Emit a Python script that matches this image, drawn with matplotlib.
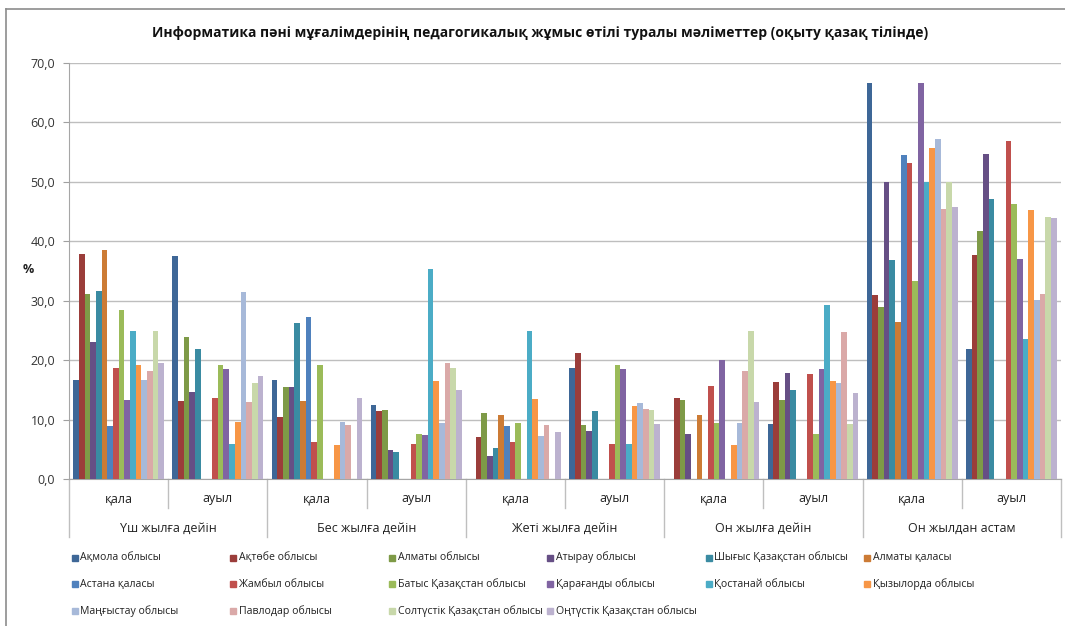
import numpy as np
import matplotlib
matplotlib.use("Agg")
import matplotlib.pyplot as plt
from matplotlib.patches import Rectangle
from matplotlib.lines import Line2D

plt.rcParams["font.family"] = ["Open Sans", "DejaVu Sans"]

TITLE = ("Информатика пәні мұғалімдерінің педагогикалық жұмыс өтілі "
         "туралы мәліметтер (оқыту қазақ тілінде)")

groups = ["Үш жылға дейін", "Бес жылға дейін", "Жеті жылға дейін",
          "Он жылға дейін", "Он жылдан астам"]
subgroups = ["қала", "ауыл"]

regions = ["Ақмола облысы", "Ақтөбе облысы", "Алматы облысы", "Атырау облысы",
           "Шығыс Қазақстан облысы", "Алматы қаласы", "Астана қаласы",
           "Жамбыл облысы", "Батыс Қазақстан облысы", "Қарағанды облысы",
           "Қостанай облысы", "Қызылорда облысы", "Маңғыстау облысы",
           "Павлодар облысы", "Солтүстік Қазақстан облысы",
           "Оңтүстік Қазақстан облысы"]

colors = ["#3E6797", "#9B3D3A", "#7E9A47", "#664F85", "#3A8BA2", "#CC7B35",
          "#4F81BD", "#C0504D", "#9BBB59", "#8064A2", "#4BACC6", "#F79646",
          "#A7B9D9", "#DAA9A8", "#C8D8AA", "#BCB2CF"]

# values per x-slot, in the order of `regions` (0 = no bar)
ush_qala = [16.7, 37.9, 31.1, 23.0, 31.6, 38.5, 9.0, 18.7, 28.5, 13.3, 24.9, 19.2, 16.7, 18.1, 24.9, 19.6]
ush_auyl = [37.5, 13.1, 23.9, 14.6, 21.8, 0, 0, 13.7, 19.2, 18.5, 5.9, 9.6, 31.4, 13.0, 16.2, 17.3]
bes_qala = [16.7, 10.4, 15.5, 15.4, 26.2, 13.2, 27.2, 6.2, 19.1, 0, 0, 5.7, 9.6, 9.1, 0, 13.7]
bes_auyl = [12.5, 11.5, 11.6, 4.8, 4.5, 0, 0, 5.9, 7.6, 7.4, 35.3, 16.5, 9.4, 19.5, 18.6, 15.0]
zheti_qala = [0, 7.0, 11.1, 3.8, 5.3, 10.8, 9.0, 6.2, 9.5, 0, 24.9, 13.5, 7.2, 9.1, 0, 7.9]
zheti_auyl = [18.7, 21.2, 9.1, 8.0, 11.5, 0, 0, 5.9, 19.2, 18.5, 5.9, 12.3, 12.8, 11.7, 11.6, 9.3]
on_qala = [0, 13.7, 13.3, 7.6, 0, 10.8, 0, 15.6, 9.5, 20.0, 0, 5.7, 9.5, 18.1, 24.9, 13.0]
on_auyl = [9.3, 16.3, 13.3, 17.8, 14.9, 0, 0, 17.7, 7.6, 18.5, 29.3, 16.5, 16.2, 24.7, 9.3, 14.4]
astam_qala = [66.6, 31.0, 28.9, 49.9, 36.8, 26.5, 54.5, 53.1, 33.3, 66.6, 49.9, 55.7, 57.2, 45.4, 49.9, 45.7]
astam_auyl = [21.8, 37.7, 41.8, 54.7, 47.1, 0, 0, 56.8, 46.2, 37.0, 23.5, 45.2, 30.2, 31.1, 44.1, 43.9]

slots = [ush_qala, ush_auyl, bes_qala, bes_auyl, zheti_qala, zheti_auyl,
         on_qala, on_auyl, astam_qala, astam_auyl]
vals = np.array(slots)          # shape (10 slots, 16 regions)

W, H = 1065, 626
fig = plt.figure(figsize=(W / 100, H / 100), dpi=100)
ax = fig.add_axes([69 / W, 1 - 479 / H, 992 / W, 416 / H])

n = len(regions)
centers = np.arange(len(slots))
span = 0.916
bw = span / n
for i, name in enumerate(regions):
    ax.bar(centers - span / 2 + bw * (i + 0.5), vals[:, i], width=bw,
           color=colors[i], linewidth=0, zorder=3)

ax.set_xlim(-0.5, len(slots) - 0.5)
ax.set_ylim(0, 70)
ax.set_yticks(np.arange(0, 71, 10))
ax.set_yticklabels([f"{v:.1f}".replace(".", ",") for v in np.arange(0, 71, 10)],
                   fontsize=9, color="#333333")
ax.yaxis.grid(True, color="#BEBEBE", linewidth=1.0, zorder=0)
ax.tick_params(axis="y", length=4, color="#A0A0A0", pad=6)
ax.set_xticks([])
for s in ["top", "right"]:
    ax.spines[s].set_visible(False)
ax.spines["left"].set_color("#A6A6A6")
ax.spines["bottom"].set_color("#A6A6A6")

# two-level category axis
trans = ax.get_xaxis_transform()
for k in range(len(slots) + 1):
    x = k - 0.5
    y0 = -0.1394 if k % 2 == 0 else -0.0697
    ax.add_line(Line2D([x, x], [0, y0], transform=trans, color="#BFBFBF",
                       linewidth=1.0, clip_on=False))
for k in range(len(slots)):
    ax.text(k, -0.048, subgroups[k % 2], transform=trans, ha="center",
            va="center", fontsize=9, color="#222222")
for g, name in enumerate(groups):
    ax.text(2 * g + 0.5, -0.118, name, transform=trans, ha="center",
            va="center", fontsize=9, color="#222222")

fig.text(28 / W, 1 - 270 / H, "%", ha="center", va="center", fontsize=9,
         fontweight="bold", color="#222222")
fig.text(540 / W, 1 - 33 / H, TITLE, ha="center", va="center", fontsize=10,
         fontweight="bold", color="#111111")

# outer chart frame (top and left edges visible)
fig.add_artist(Line2D([6 / W, 1], [1 - 9 / H, 1 - 9 / H], transform=fig.transFigure,
                      color="#8C8C8C", linewidth=1.2))
fig.add_artist(Line2D([6 / W, 6 / W], [0, 1 - 9 / H], transform=fig.transFigure,
                      color="#8C8C8C", linewidth=1.2))

# legend laid out in a fixed grid like the original
for i, name in enumerate(regions):
    col, row = i % 6, i // 6
    x = 71.5 + 158.5 * col
    y = 557.5 + 26.7 * row
    fig.add_artist(Rectangle((x / W, 1 - (y + 3) / H), 6 / W, 6 / H,
                             transform=fig.transFigure, color=colors[i]))
    fig.text((x + 9) / W, 1 - y / H, name, ha="left", va="center",
             fontsize=7.6, color="#222222")

fig.savefig("out.png", dpi=100)
